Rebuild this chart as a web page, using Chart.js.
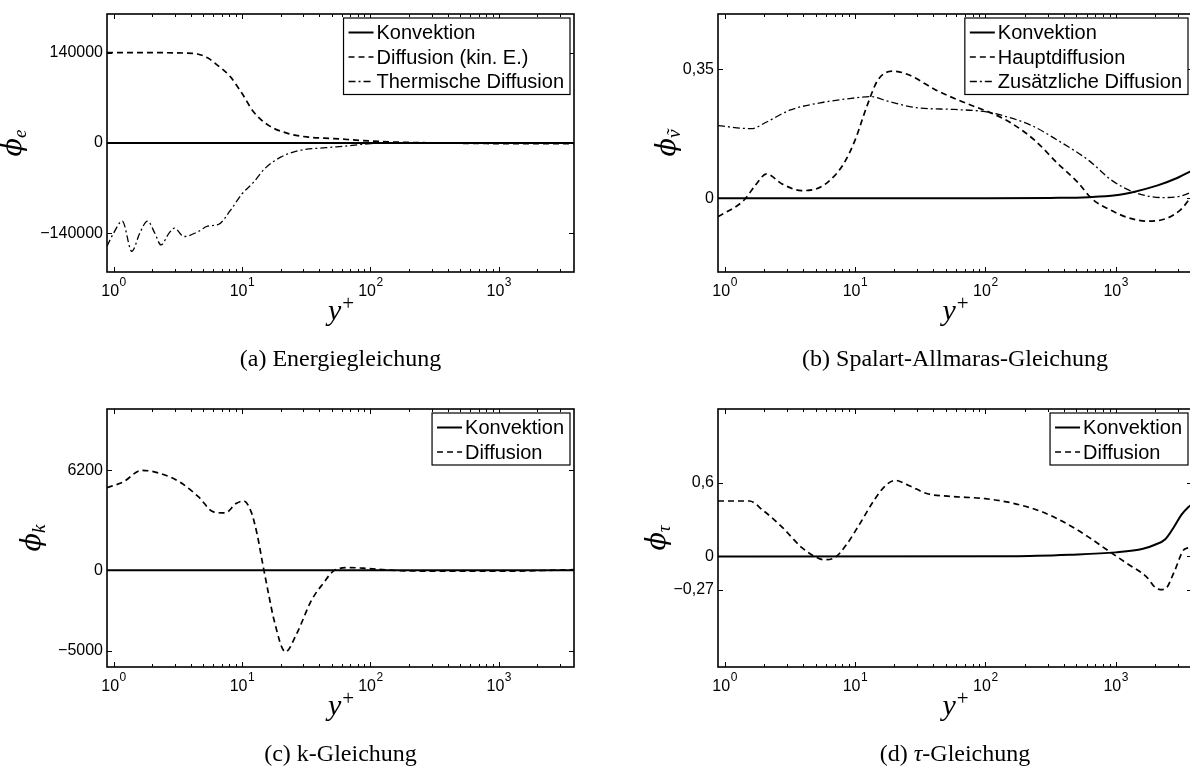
<!DOCTYPE html>
<html lang="de">
<head>
<meta charset="utf-8">
<script src="https://cdn.jsdelivr.net/npm/chart.js@4"></script>
<style>
  html, body { margin: 0; padding: 0; background: #fff; overflow: hidden; }
  #bild { position: relative; width: 1190px; height: 769px; overflow: hidden; }
  canvas { position: absolute; }
</style>
</head>
<body>
<div id="bild">
  <canvas id="gA" width="600" height="380" style="left:0;top:0"></canvas>
  <canvas id="gB" width="610" height="380" style="left:600px;top:0"></canvas>
  <canvas id="gC" width="600" height="389" style="left:0;top:380px"></canvas>
  <canvas id="gD" width="610" height="389" style="left:600px;top:380px"></canvas>
</div>
<script>
// x-Achse (y+), gleich fuer alle vier Bilder
const xMin = 0.89, xMax = 3850;
const xBeschriftung = [1, 10, 100, 1000];
const xExponent = ['0', '1', '2', '3'];

// (a) Energiegleichung
const yTicksA = [-140000, 0, 140000];
const xKonvA = [0.89, 4000];
const yKonvA = [0, 0];
const xDiffA = [0.89, 2, 3.5, 4.5, 5.4, 6.5, 8.1, 10, 12.3, 16, 23, 32, 52, 100, 150, 300, 800, 4000];
const yDiffA = [140000, 140000, 139500, 138000, 132000, 120000, 103000, 77000, 48500, 27700, 14600, 9400, 6800, 3100, 1500, 300, -800, -1000];
const xThermA = [0.89, 1.0, 1.17, 1.39, 1.6, 1.84, 2.1, 2.34, 2.7, 2.98, 3.54, 4.5, 5.4, 6.6, 8.1, 10, 12.3, 15, 20, 28, 45, 64, 100, 200, 4000];
const yThermA = [-160000, -140000, -121000, -168000, -140000, -121000, -140000, -158000, -140000, -132000, -145000, -138000, -129000, -126000, -105000, -79000, -61000, -40000, -22000, -11500, -7300, -4700, -1000, 0, 500];

// (b) Spalart-Allmaras-Gleichung
const yTicksB = [0, 0.35];
const xKonvB = [0.89, 100, 316, 620, 1000, 1400, 2100, 2960, 4000];
const yKonvB = [0, 0, 0.001, 0.003, 0.008, 0.018, 0.035, 0.055, 0.078];
const xHauptB = [0.89, 1.4, 1.72, 2.1, 2.76, 3.87, 4.75, 6.2, 8.2, 10, 12.3, 15, 19.7, 25.8, 41.6, 66.6, 122, 160, 240, 360, 510, 660, 940, 1230, 1730, 2400, 3170, 4000];
const yHauptB = [-0.05, -0.006, 0.035, 0.066, 0.039, 0.021, 0.023, 0.044, 0.094, 0.157, 0.248, 0.321, 0.345, 0.335, 0.294, 0.262, 0.225, 0.203, 0.157, 0.094, 0.044, -0.002, -0.034, -0.052, -0.062, -0.056, -0.03, 0.015];
const xZusB = [0.89, 1.6, 2.1, 3.16, 5.4, 9.35, 13.1, 18.4, 29.5, 58, 100, 140, 225, 360, 620, 940, 1400, 2240, 3170, 4000];
const yZusB = [0.197, 0.189, 0.207, 0.239, 0.259, 0.271, 0.276, 0.262, 0.246, 0.241, 0.235, 0.223, 0.198, 0.157, 0.103, 0.048, 0.016, 0.002, 0.006, 0.02];

// (c) k-Gleichung
const yTicksC = [-5000, 0, 6200];
const xKonvC = [0.89, 4000];
const yKonvC = [0, 0];
const xDiffC = [0.89, 1.19, 1.66, 2.33, 3.27, 4.6, 6.0, 7.4, 9.0, 10.3, 11.8, 13.1, 14.5, 16.1, 17.8, 21.8, 26.7, 34.8, 42.8, 52.6, 69, 97, 190, 1000, 4000];
const yDiffC = [5126, 5477, 6200, 5994, 5477, 4547, 3617, 3555, 4134, 4300, 3617, 2273, 413, -1447, -3100, -5064, -3927, -1860, -827, 0, 165, 103, -41, -62, 41];

// (d) tau-Gleichung
const yTicksD = [-0.27, 0, 0.6];
const xKonvD = [0.89, 160, 445, 1000, 1620, 2000, 2400, 2800, 3200, 3600, 4000];
const yKonvD = [0, 0.002, 0.014, 0.033, 0.062, 0.095, 0.14, 0.24, 0.34, 0.40, 0.44];
const xDiffD = [0.89, 1.55, 1.97, 2.76, 3.87, 4.75, 5.8, 7.1, 8.7, 10.7, 14, 17.2, 20.4, 25.8, 36, 54, 100, 160, 275, 445, 620, 870, 1230, 1730, 2000, 2200, 2400, 2800, 3300, 3600, 4000];
const yDiffD = [0.451, 0.451, 0.375, 0.239, 0.076, 0.008, -0.027, -0.005, 0.103, 0.252, 0.456, 0.578, 0.619, 0.578, 0.51, 0.489, 0.47, 0.435, 0.361, 0.252, 0.157, 0.049, -0.06, -0.168, -0.25, -0.27, -0.265, -0.13, 0.05, 0.07, 0.075];

// kleine Teilstriche 1..9 * 10^n
const xTicks = [];
for (let e = 0; e <= 3; e++) {
  for (let m = 1; m <= 9; m++) {
    const v = m * Math.pow(10, e);
    if (v >= xMin && v <= xMax) xTicks.push(v);
  }
}

const stil = {
  voll: { borderWidth: 2, borderDash: [] },
  strich: { borderWidth: 1.7, borderDash: [6, 4] },
  strichPunkt: { borderWidth: 1.3, borderDash: [7, 3, 2, 3] }
};

function punkte(xs, ys) {
  return xs.map((x, i) => ({ x: x, y: ys[i] }));
}

function linie(label, xs, ys, art) {
  return Object.assign({
    label: label,
    data: punkte(xs, ys),
    borderColor: '#000',
    pointRadius: 0,
    fill: false,
    cubicInterpolationMode: 'monotone'
  }, stil[art]);
}

function zahl(v) {
  return String(v).replace('.', ',').replace('-', '\u2212');
}

const SANS = '"Liberation Sans", Arial, sans-serif';
const SERIF = '"Liberation Serif", "Times New Roman", serif';
const PHI = '"DejaVu Serif", "Liberation Serif", serif';

// Rahmen, Teilstriche nach innen, Beschriftungen, Legende (MATLAB-Stil)
const figur = {
  id: 'figur',
  afterDraw(chart, args, o) {
    const ctx = chart.ctx;
    const a = chart.chartArea;
    const sx = chart.scales.x, sy = chart.scales.y;
    ctx.save();
    ctx.strokeStyle = '#000';
    ctx.fillStyle = '#000';
    ctx.setLineDash([]);

    ctx.lineWidth = 1;
    ctx.beginPath();
    sx.ticks.forEach(t => {
      const p = Math.round(sx.getPixelForValue(t.value)) + 0.5;
      const l = xBeschriftung.includes(t.value) ? 5 : 3;
      ctx.moveTo(p, a.bottom); ctx.lineTo(p, a.bottom - l);
      ctx.moveTo(p, a.top); ctx.lineTo(p, a.top + l);
    });
    sy.ticks.forEach(t => {
      const p = Math.round(sy.getPixelForValue(t.value)) + 0.5;
      ctx.moveTo(a.left, p); ctx.lineTo(a.left + 5, p);
      ctx.moveTo(a.right, p); ctx.lineTo(a.right - 5, p);
    });
    ctx.stroke();

    ctx.lineWidth = 1.6;
    ctx.strokeRect(a.left, a.top, a.right - a.left, a.bottom - a.top);

    // 10^n
    ctx.textAlign = 'left';
    ctx.textBaseline = 'alphabetic';
    xBeschriftung.forEach((v, i) => {
      const p = sx.getPixelForValue(v);
      ctx.font = '16px ' + SANS;
      const w1 = ctx.measureText('10').width;
      ctx.font = '12px ' + SANS;
      const w2 = ctx.measureText(xExponent[i]).width;
      const x0 = p - (w1 + w2) / 2;
      ctx.font = '16px ' + SANS;
      ctx.fillText('10', x0, a.bottom + 24);
      ctx.font = '12px ' + SANS;
      ctx.fillText(xExponent[i], x0 + w1 + 0.5, a.bottom + 14);
    });

    // y+
    const cx = (a.left + a.right) / 2;
    ctx.font = 'italic 30px ' + SERIF;
    const wy = ctx.measureText('y').width;
    ctx.font = '21px ' + SERIF;
    const wp = ctx.measureText('+').width;
    const xy = cx - (wy + wp) / 2;
    ctx.font = 'italic 30px ' + SERIF;
    ctx.fillText('y', xy, a.bottom + 48);
    ctx.font = '21px ' + SERIF;
    ctx.fillText('+', xy + wy + 1, a.bottom + 38);

    // phi_index
    ctx.save();
    ctx.translate(o.yTitelX, (a.top + a.bottom) / 2);
    ctx.rotate(-Math.PI / 2);
    ctx.font = 'italic 27px ' + PHI;
    const wf = ctx.measureText('\u03d5').width;
    ctx.font = 'italic 19px ' + SERIF;
    const ws = ctx.measureText(o.index).width;
    const s0 = -(wf + ws) / 2;
    ctx.font = 'italic 27px ' + PHI;
    ctx.fillText('\u03d5', s0, 0);
    ctx.font = 'italic 19px ' + SERIF;
    ctx.fillText(o.index, s0 + wf, 5);
    if (o.tilde) {
      const wt = ctx.measureText('\u02dc').width;
      ctx.fillText('\u02dc', s0 + wf + (ws - wt) / 2 + 1, 5);
    }
    ctx.restore();

    // Legende
    ctx.font = '20px ' + SANS;
    const ds = chart.data.datasets;
    const tw = Math.max.apply(null, ds.map(d => ctx.measureText(d.label).width));
    const zeile = 24.5;
    const bw = 33 + tw + 6, bh = ds.length * zeile + 3;
    const bx = a.right - 4 - bw, by = a.top + 4;
    ctx.fillStyle = '#fff';
    ctx.fillRect(bx, by, bw, bh);
    ctx.lineWidth = 1.2;
    ctx.strokeRect(bx, by, bw, bh);
    ctx.fillStyle = '#000';
    ctx.textBaseline = 'middle';
    ds.forEach((d, i) => {
      const yy = by + 14.5 + i * zeile;
      ctx.setLineDash(d.borderDash || []);
      ctx.lineWidth = d.borderWidth;
      ctx.beginPath();
      ctx.moveTo(bx + 5, yy); ctx.lineTo(bx + 30, yy);
      ctx.stroke();
      ctx.setLineDash([]);
      ctx.fillText(d.label, bx + 33, yy + 1);
    });

    // Unterschrift
    ctx.textBaseline = 'alphabetic';
    let gesamt = 0;
    o.titel.forEach(t => { ctx.font = t[1] + '24px ' + SERIF; gesamt += ctx.measureText(t[0]).width; });
    let tx = cx - gesamt / 2;
    o.titel.forEach(t => {
      ctx.font = t[1] + '24px ' + SERIF;
      ctx.fillText(t[0], tx, a.bottom + 94);
      tx += ctx.measureText(t[0]).width;
    });
    ctx.restore();
  }
};

function diagramm(id, datasets, cfg) {
  return new Chart(document.getElementById(id), {
    type: 'line',
    data: { datasets: datasets },
    options: {
      responsive: false,
      animation: false,
      devicePixelRatio: 1,
      layout: { padding: { left: 0, top: cfg.oben, right: cfg.rechts, bottom: 0 } },
      plugins: { legend: { display: false }, tooltip: { enabled: false }, figur: cfg },
      scales: {
        x: {
          type: 'logarithmic', min: xMin, max: xMax,
          grid: { display: false, drawTicks: false },
          border: { display: false },
          ticks: { display: false },
          afterBuildTicks: s => { s.ticks = xTicks.map(v => ({ value: v })); },
          afterFit: s => { s.height = cfg.xHoehe; s.paddingLeft = 0; s.paddingRight = 0; }
        },
        y: {
          type: 'linear', min: cfg.yMin, max: cfg.yMax,
          grid: { display: false, drawTicks: false },
          border: { display: false },
          ticks: {
            color: '#000', padding: 4, autoSkip: false,
            font: { family: SANS, size: 16 },
            callback: v => zahl(v)
          },
          afterBuildTicks: s => { s.ticks = cfg.yTicks.map(v => ({ value: v })); },
          afterFit: s => { s.width = cfg.yBreite; s.paddingTop = 0; s.paddingBottom = 0; }
        }
      }
    },
    plugins: [figur]
  });
}

diagramm('gA', [
  linie('Konvektion', xKonvA, yKonvA, 'voll'),
  linie('Diffusion (kin. E.)', xDiffA, yDiffA, 'strich'),
  linie('Thermische Diffusion', xThermA, yThermA, 'strichPunkt')
], { yMin: -200000, yMax: 200000, yTicks: yTicksA, oben: 14, rechts: 26, yBreite: 107, xHoehe: 108,
     yTitelX: 21, index: 'e', titel: [['(a) Energiegleichung', '']] });

diagramm('gB', [
  linie('Konvektion', xKonvB, yKonvB, 'voll'),
  linie('Hauptdiffusion', xHauptB, yHauptB, 'strich'),
  linie('Zus\u00e4tzliche Diffusion', xZusB, yZusB, 'strichPunkt')
], { yMin: -0.2, yMax: 0.5, yTicks: yTicksB, oben: 14, rechts: 18, yBreite: 118, xHoehe: 108,
     yTitelX: 75, index: '\u03bd', tilde: true, titel: [['(b) Spalart-Allmaras-Gleichung', '']] });

diagramm('gC', [
  linie('Konvektion', xKonvC, yKonvC, 'voll'),
  linie('Diffusion', xDiffC, yDiffC, 'strich')
], { yMin: -6000, yMax: 10000, yTicks: yTicksC, oben: 29, rechts: 26, yBreite: 107, xHoehe: 102,
     yTitelX: 40, index: 'k', titel: [['(c) k-Gleichung', '']] });

diagramm('gD', [
  linie('Konvektion', xKonvD, yKonvD, 'voll'),
  linie('Diffusion', xDiffD, yDiffD, 'strich')
], { yMin: -0.9, yMax: 1.2, yTicks: yTicksD, oben: 29, rechts: 18, yBreite: 118, xHoehe: 102,
     yTitelX: 65, index: '\u03c4', titel: [['(d) ', ''], ['\u03c4', 'italic '], ['-Gleichung', '']] });
</script>
</body>
</html>
